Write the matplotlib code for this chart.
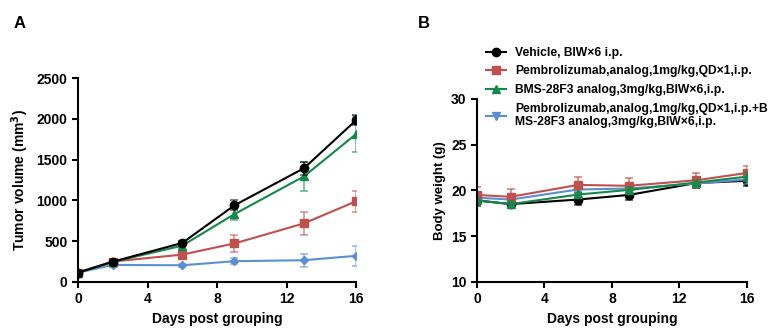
import matplotlib
matplotlib.use('Agg')
import matplotlib.pyplot as plt
import numpy as np

plt.rcParams['font.family'] = ['Liberation Sans', 'DejaVu Sans']
plt.rcParams['font.weight'] = 'bold'

days = [0, 2, 6, 9, 13, 16]
groups = ['Vehicle, BIW\u00d76 i.p.',
          'Pembrolizumab,analog,1mg/kg,QD\u00d71,i.p.',
          'BMS-28F3 analog,3mg/kg,BIW\u00d76,i.p.',
          'Pembrolizumab,analog,1mg/kg,QD\u00d71,i.p.+B\nMS-28F3 analog,3mg/kg,BIW\u00d76,i.p.']

# tumor volume (mm3), mean and error
vol_vehicle = [114, 248, 478, 940, 1395, 1985]
vol_pembro = [115, 250, 335, 472, 718, 990]
vol_bms = [110, 245, 445, 832, 1295, 1815]
vol_combo = [114, 208, 204, 254, 266, 320]
vol_vehicle_err = [20, 20, 20, 60, 80, 60]
vol_pembro_err = [15, 25, 45, 105, 140, 130]
vol_bms_err = [15, 20, 30, 70, 180, 225]
vol_combo_err = [10, 20, 20, 40, 80, 125]

# body weight (g)
bw_vehicle = [18.9, 18.5, 19.0, 19.5, 20.8, 21.05]
bw_pembro = [19.5, 19.3, 20.6, 20.5, 21.1, 21.9]
bw_bms = [18.9, 18.5, 19.55, 20.05, 20.85, 21.5]
bw_combo = [19.2, 19.0, 20.1, 20.2, 20.75, 21.2]
bw_vehicle_err = [0.6, 0.4, 0.6, 0.5, 0.5, 0.6]
bw_pembro_err = [0.9, 0.8, 0.9, 0.8, 0.8, 0.8]
bw_bms_err = [0.3, 0.3, 0.3, 0.3, 0.3, 0.4]
bw_combo_err = [0.5, 0.4, 0.4, 0.4, 0.4, 0.5]

colors = ['#000000', '#c0504d', '#138a4a', '#5b8fd2']
markers_a = ['o', 's', '^', 'D']
markers_b = ['o', 's', '^', 'v']
msizes_a = [6, 6, 6, 4]

fig = plt.figure(figsize=(7.77, 3.34), dpi=100)
ax1 = fig.add_axes([0.1004, 0.156, 0.358, 0.61])
ax2 = fig.add_axes([0.614, 0.156, 0.347, 0.548])

vols = [vol_vehicle, vol_pembro, vol_bms, vol_combo]
vol_errs = [vol_vehicle_err, vol_pembro_err, vol_bms_err, vol_combo_err]
order = [3, 1, 2, 0]
for i in order:
    ax1.errorbar(days, vols[i], yerr=vol_errs[i], fmt='none', ecolor=colors[i],
                 alpha=0.6, capsize=3, elinewidth=1.2, capthick=1.2)
    ax1.plot(days, vols[i], color=colors[i], marker=markers_a[i],
             ms=msizes_a[i], lw=1.5)

bws = [bw_vehicle, bw_pembro, bw_bms, bw_combo]
bw_errs = [bw_vehicle_err, bw_pembro_err, bw_bms_err, bw_combo_err]
handles = [None] * 4
for i in [0, 3, 1, 2]:
    ax2.errorbar(days, bws[i], yerr=bw_errs[i], fmt='none', ecolor=colors[i],
                 alpha=0.7, capsize=3, elinewidth=1.2, capthick=1.2)
    handles[i], = ax2.plot(days, bws[i], color=colors[i], marker=markers_b[i],
                           ms=6, lw=1.5, label=groups[i])

for ax in (ax1, ax2):
    ax.spines['top'].set_visible(False)
    ax.spines['right'].set_visible(False)
    ax.spines['left'].set_linewidth(1.5)
    ax.spines['bottom'].set_linewidth(1.5)
    ax.set_xlim(0, 16)
    ax.set_xticks([0, 4, 8, 12, 16])
    ax.tick_params(width=1.5, length=4, labelsize=10)
    ax.set_xlabel('Days post grouping', fontsize=10, fontweight='bold')
    for lbl in ax.get_xticklabels() + ax.get_yticklabels():
        lbl.set_fontweight('bold')

ax1.set_ylim(0, 2500)
ax1.set_yticks([0, 500, 1000, 1500, 2000, 2500])
ax1.set_ylabel('Tumor volume (mm$^\\mathbf{3}$)', fontsize=10, fontweight='bold')

ax2.set_ylim(10, 30)
ax2.set_yticks([10, 15, 20, 25, 30])
ax2.set_ylabel('Body weight (g)', fontsize=9.5, fontweight='bold')

fig.legend(handles=handles, loc='upper left', bbox_to_anchor=(0.626, 0.86),
           frameon=False, handlelength=1.6, handletextpad=0.8,
           labelspacing=0.55, borderpad=0, borderaxespad=0,
           prop={'weight': 'bold', 'size': 8.7})

fig.text(0.017, 0.915, 'A', fontsize=12, fontweight='bold')
fig.text(0.538, 0.915, 'B', fontsize=12, fontweight='bold')

fig.savefig('out.png', dpi=100)
